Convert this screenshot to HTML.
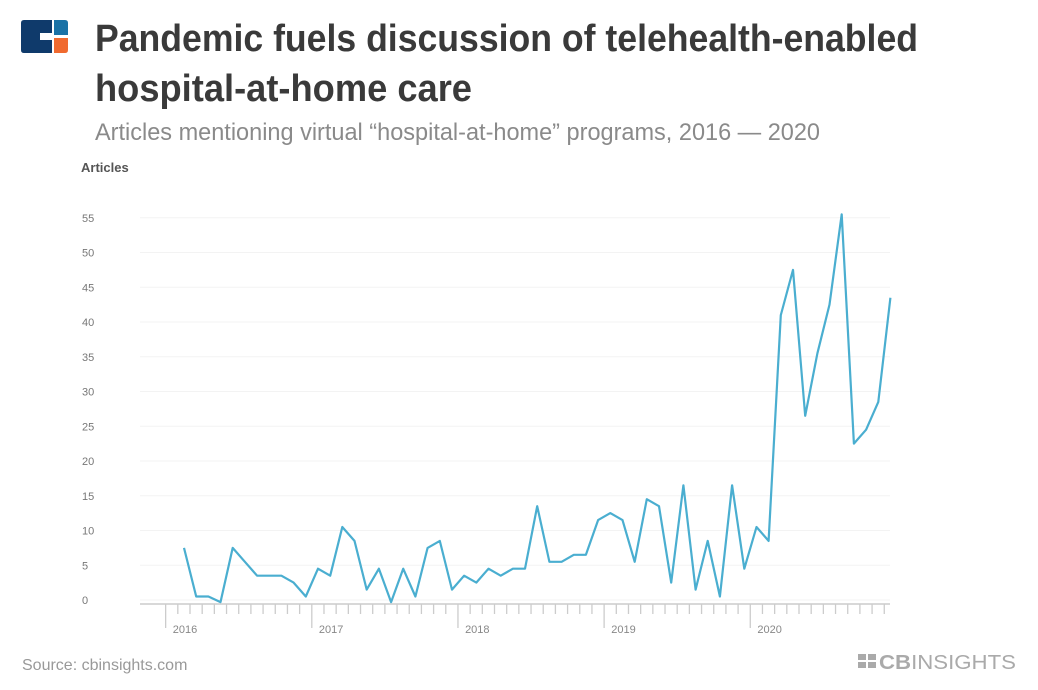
<!DOCTYPE html>
<html><head><meta charset="utf-8"><style>
body{margin:0;background:#fff;width:1038px;height:690px;overflow:hidden;font-family:"Liberation Sans",sans-serif}
svg{display:block}
</style></head><body>
<svg width="1038" height="690" viewBox="0 0 1038 690">
  <g>
    <path d="M24 20 H52 V33 H40 V40 H52 V53 H24 Q21 53 21 50 V23 Q21 20 24 20Z" fill="#0f3a6b"/>
    <path d="M54 20 H65 Q68 20 68 23 V35 H54Z" fill="#1a72a6"/>
    <path d="M54 38 H68 V50 Q68 53 65 53 H54Z" fill="#f06a2f"/>
  </g>
  <text x="95" y="51" font-size="38" font-weight="bold" fill="#3a3a3a" textLength="823" lengthAdjust="spacingAndGlyphs">Pandemic fuels discussion of telehealth-enabled</text>
  <text x="95" y="101" font-size="38" font-weight="bold" fill="#3a3a3a" textLength="377" lengthAdjust="spacingAndGlyphs">hospital-at-home care</text>
  <text x="95" y="140" font-size="24" fill="#8a8a8a" textLength="725" lengthAdjust="spacingAndGlyphs">Articles mentioning virtual “hospital-at-home” programs, 2016 — 2020</text>
  <text x="81" y="172" font-size="13" font-weight="bold" fill="#555">Articles</text>
  <g id="grid"></g>
  <g id="yticks"></g>
  <g id="xaxis"></g>
  <path id="line" fill="none" stroke="#4aaed0" stroke-width="2.2" stroke-linejoin="round"/>
  <text x="22" y="670" font-size="16" fill="#999">Source: cbinsights.com</text>
  <g>
    <rect x="858" y="654" width="8" height="6" fill="#aaa"/><rect x="858" y="662" width="8" height="6" fill="#aaa"/>
    <rect x="868" y="654" width="8" height="6" fill="#aaa"/><rect x="868" y="662" width="8" height="6" fill="#aaa"/>
    <text x="879" y="669" font-size="20" fill="#aaa" textLength="137" lengthAdjust="spacingAndGlyphs"><tspan font-weight="bold">CB</tspan>INSIGHTS</text>
  </g>
</svg>
<script>
const yTicks=[0,5,10,15,20,25,30,35,40,45,50,55];
const years=["2016","2017","2018","2019","2020"];
const values=[7.5,0.5,0.5,-0.3,7.5,5.5,3.5,3.5,3.5,2.5,0.5,4.5,
3.5,10.5,8.5,1.5,4.5,-0.3,4.5,0.5,7.5,8.5,1.5,3.5,
2.5,4.5,3.5,4.5,4.5,13.5,5.5,5.5,6.5,6.5,11.5,12.5,
11.5,5.5,14.5,13.5,2.5,16.5,1.5,8.5,0.5,16.5,4.5,10.5,
8.5,41,47.5,26.5,35.5,42.5,55.5,22.5,24.5,28.5,43.5];
const NS="http://www.w3.org/2000/svg";
const y=v=>600-v*6.95;
const x=i=>184+i*12.18;
const grid=document.getElementById('grid'),yt=document.getElementById('yticks'),xa=document.getElementById('xaxis');
yTicks.forEach(t=>{
  const l=document.createElementNS(NS,'line');
  
  
  l.setAttribute('x1',140);l.setAttribute('x2',890);l.setAttribute('y1',y(t));l.setAttribute('y2',y(t));
  l.setAttribute('stroke','#f3f3f3');grid.appendChild(l);
  const tx=document.createElementNS(NS,'text');
  
  
  tx.setAttribute('x',82);tx.setAttribute('y',y(t)+4);tx.setAttribute('font-size','11');tx.setAttribute('fill','#777');
  tx.textContent=t;yt.appendChild(tx);
});
const base=604;
const ax=document.createElementNS(NS,'line');


ax.setAttribute('x1',140);ax.setAttribute('x2',890);ax.setAttribute('y1',base);ax.setAttribute('y2',base);
ax.setAttribute('stroke','#ccc');ax.setAttribute('stroke-width','1.5');xa.appendChild(ax);
for(let i=-2;i<values.length;i++){
  const major=(i+1)%12===0||i===-2&&false;
  const xx=x(i)-6.09+ (0);
}
for(let m=-1;m<=59;m++){
  const xx=184-12.18*1+12.18*(m) +6; // ticks between months
  if(xx<140||xx>890)continue;
  const isYear=((m+1)%12===0);
  const l=document.createElementNS(NS,'line');
  
  
  l.setAttribute('x1',xx);l.setAttribute('x2',xx);l.setAttribute('y1',base);l.setAttribute('y2',isYear?base+24:base+10);
  l.setAttribute('stroke','#ccc');l.setAttribute('stroke-width','1.3');xa.appendChild(l);
}
years.forEach((yr,k)=>{
  const tx=document.createElementNS(NS,'text');
  
  
  tx.setAttribute('x',x(k*12)+1);tx.setAttribute('y',633);tx.setAttribute('font-size','11');tx.setAttribute('fill','#888');tx.setAttribute('text-anchor','middle');
  tx.textContent=yr;xa.appendChild(tx);
});
document.getElementById('line').setAttribute('d',values.map((v,i)=>(i?'L':'M')+x(i).toFixed(1)+' '+y(v).toFixed(1)).join(' '));
</script>
</body></html>
